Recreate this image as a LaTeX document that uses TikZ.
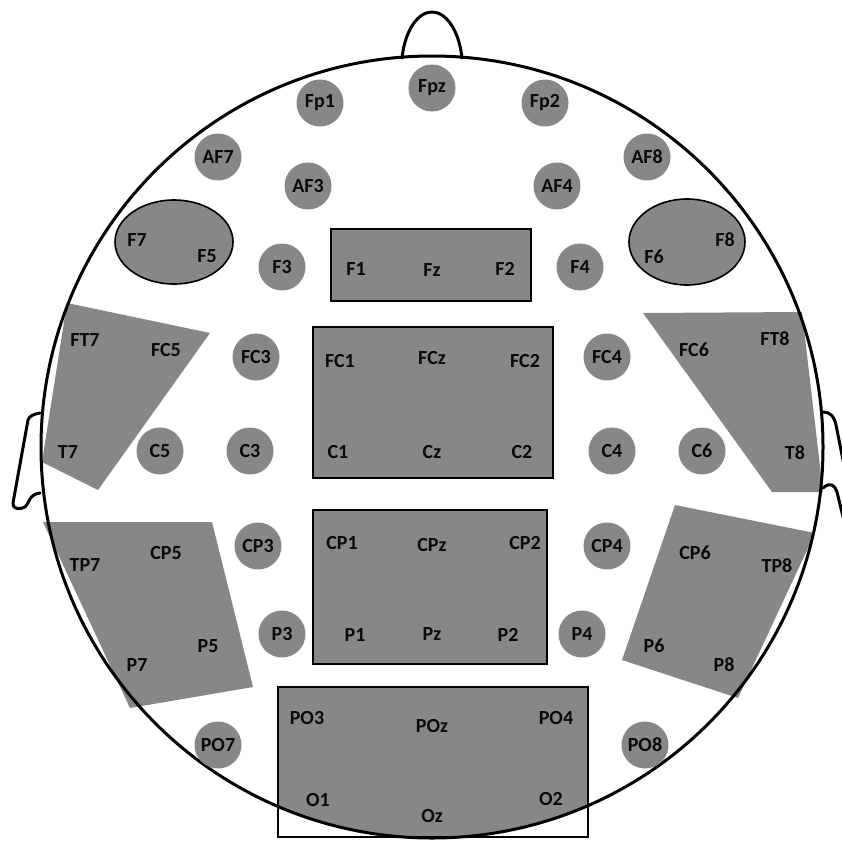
\documentclass[tikz,border=0pt]{standalone}
\usepackage{fontspec}
\setmainfont{Carlito}
\definecolor{eg}{RGB}{135,135,135}
\definecolor{ink}{RGB}{10,10,10}
\tikzset{
  elec/.style={circle, fill=eg, minimum size=47pt, inner sep=0pt, text=ink,
    font=\bfseries\fontsize{20}{20}\selectfont},
  lab/.style={inner sep=0pt, text=ink, font=\bfseries\fontsize{20}{20}\selectfont},
  region/.style={fill=eg, draw=black, line width=1.6pt},
  flat/.style={fill=eg},
  outline/.style={draw=black, line width=3pt, line join=round, line cap=round},
}
\begin{document}
\begin{tikzpicture}[x=1pt,y=-1pt]
\useasboundingbox (0,0) rectangle (842,841);
\fill[white] (0,0) rectangle (842,841);

% regions
\draw[region] (174,242) ellipse[x radius=59, y radius=42];
\draw[region] (687,242) ellipse[x radius=58, y radius=43];
\draw[region] (331,229) rectangle (531,301);
\draw[region] (313,327) rectangle (553,478);
\draw[region] (313,510) rectangle (547,664);
\fill[flat] (67,303) -- (210,333) -- (98,490) -- (42,462) -- cycle;
\fill[flat] (643,313) -- (802,312) -- (823,492) -- (772,492) -- cycle;
\fill[flat] (43,522) -- (212,522) -- (253,687) -- (130,708) -- cycle;
\fill[flat] (675,505) -- (815,533) -- (738,698) -- (622,660) -- cycle;
\begin{scope}
  \clip (432,447) circle[radius=391];
  \fill[eg] (278,687) rectangle (588,837);
\end{scope}
\draw[line width=1.6pt] (278,687) rectangle (588,837);

% head
\draw[outline] (432,447) circle[radius=391];
\draw[outline] (402,58) .. controls (405,30) and (418,12) .. (432,12)
  .. controls (446,12) and (459,30) .. (462,58);
\draw[outline] (40,413) .. controls (34,414) and (29,416) .. (28,420)
  -- (13,503) .. controls (12,509) and (20,510) .. (25,507)
  .. controls (29,504) and (29,494) .. (40,493);
\draw[outline] (823,412) .. controls (830,412) and (834,416) .. (836,425) -- (845,470);
\draw[outline] (823,488) .. controls (830,482) and (834,484) .. (837,492) -- (845,525);

% electrodes
\node[elec] (Fp1) at (320,103) {Fp1};
\node[elec] (Fpz) at (432,88) {Fpz};
\node[elec] (Fp2) at (545,103) {Fp2};
\node[elec] (AF7) at (218,157) {AF7};
\node[elec] (AF8) at (647,157) {AF8};
\node[elec] (AF3) at (308,186) {AF3};
\node[elec] (AF4) at (557,186) {AF4};
\node[elec] (F3) at (282,267) {F3};
\node[elec] (F4) at (580,267) {F4};
\node[elec] (FC3) at (256,357) {FC3};
\node[elec] (FC4) at (607,357) {FC4};
\node[elec] (C5) at (160,451) {C5};
\node[elec] (C3) at (250,451) {C3};
\node[elec] (C4) at (612,451) {C4};
\node[elec] (C6) at (702,451) {C6};
\node[elec] (CP3) at (258,546) {CP3};
\node[elec] (CP4) at (607,546) {CP4};
\node[elec] (P3) at (282,634) {P3};
\node[elec] (P4) at (582,634) {P4};
\node[elec] (PO7) at (218,745) {PO7};
\node[elec] (PO8) at (645,745) {PO8};

% region labels
\node[lab] (F7) at (137,240) {F7};
\node[lab] (F5) at (207,256) {F5};
\node[lab] (F6) at (654,257) {F6};
\node[lab] (F8) at (725,240) {F8};
\node[lab] (F1) at (356,269) {F1};
\node[lab] (Fz) at (432,270) {Fz};
\node[lab] (F2) at (505,269) {F2};
\node[lab] (FT7) at (85,340) {FT7};
\node[lab] (FC5) at (166,350) {FC5};
\node[lab] (T7) at (68,452) {T7};
\node[lab] (FC6) at (694,350) {FC6};
\node[lab] (FT8) at (775,339) {FT8};
\node[lab] (T8) at (795,453) {T8};
\node[lab] (FC1) at (340,361) {FC1};
\node[lab] (FCz) at (432,358) {FCz};
\node[lab] (FC2) at (525,361) {FC2};
\node[lab] (C1) at (338,452) {C1};
\node[lab] (Cz) at (432,452) {Cz};
\node[lab] (C2) at (522,452) {C2};
\node[lab] (CP1) at (342,543) {CP1};
\node[lab] (CPz) at (432,545) {CPz};
\node[lab] (CP2) at (525,543) {CP2};
\node[lab] (P1) at (355,635) {P1};
\node[lab] (Pz) at (432,634) {Pz};
\node[lab] (P2) at (508,635) {P2};
\node[lab] (TP7) at (85,565) {TP7};
\node[lab] (CP5) at (166,553) {CP5};
\node[lab] (P5) at (208,646) {P5};
\node[lab] (P7) at (137,665) {P7};
\node[lab] (CP6) at (695,553) {CP6};
\node[lab] (TP8) at (777,566) {TP8};
\node[lab] (P6) at (654,646) {P6};
\node[lab] (P8) at (724,665) {P8};
\node[lab] (PO3) at (307,718) {PO3};
\node[lab] (POz) at (432,726) {POz};
\node[lab] (PO4) at (556,718) {PO4};
\node[lab] (O1) at (318,800) {O1};
\node[lab] (Oz) at (432,816) {Oz};
\node[lab] (O2) at (551,799) {O2};
\end{tikzpicture}
\end{document}
